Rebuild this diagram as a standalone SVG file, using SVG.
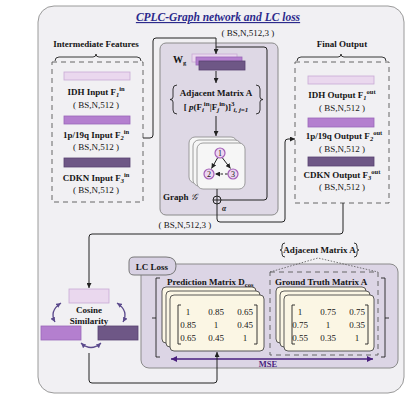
<svg xmlns="http://www.w3.org/2000/svg" width="415" height="409" viewBox="0 0 415 409">
<defs>
<marker id="ah" viewBox="0 0 6 6" refX="6" refY="3" markerWidth="5" markerHeight="5" markerUnits="userSpaceOnUse" orient="auto"><path d="M0,0 L6,3 L0,6 z" fill="#222"/></marker>
<marker id="ap" viewBox="0 0 6 6" refX="6" refY="3" markerWidth="6" markerHeight="6" markerUnits="userSpaceOnUse" orient="auto-start-reverse"><path d="M0,0 L6,3 L0,6 z" fill="#4a1f7e"/></marker>
<marker id="ac" viewBox="0 0 6 6" refX="6" refY="3" markerWidth="5" markerHeight="5" markerUnits="userSpaceOnUse" orient="auto-start-reverse"><path d="M0,0 L6,3 L0,6 z" fill="#5b4a8c"/></marker>
</defs>
<style>
text{font-family:"Liberation Serif","DejaVu Serif",serif;fill:#151515}
.b{font-weight:bold}
.s9{font-size:9px}
.s8{font-size:8.5px}
.c{text-anchor:middle}
.sp{font-size:6.5px}
.sq{font-size:7px}
.ln{fill:none;stroke:#222;stroke-width:1}
.dash{fill:none;stroke:#666;stroke-width:1;stroke-dasharray:5,4}
.b1{fill:#ead8ee;stroke:#c9aad4;stroke-width:0.8}
.b2{fill:#b47fcf;stroke:#9a66b8;stroke-width:0.8}
.b3{fill:#6e5786;stroke:#574270;stroke-width:0.8}
.card{fill:#fbf6e4;stroke:#333;stroke-width:0.8}
.gcard{fill:#f6f6f6;stroke:#888;stroke-width:0.8}
.nd{fill:#ecd6f0;stroke:#a45fb8;stroke-width:1.2}
.br{fill:none;stroke:#222;stroke-width:0.9}
</style>

<rect x="38" y="6" width="366" height="387" rx="16" fill="#f1f0f3" stroke="#9a9a9a" stroke-width="1"/>
<text x="218" y="21" class="c" style="font-size:11.5px;font-weight:bold;font-style:italic;fill:#2c2a8c;text-decoration:underline">CPLC-Graph network and LC loss</text>

<g id="intermediate">
<text x="96" y="47" class="b s9 c">Intermediate Features</text>
<path class="br" d="M55,61 Q55,57 59,57 L93,57 Q96,57 96,54 Q96,57 99,57 L137,57 Q141,57 141,61"/>
<rect class="dash" x="52" y="62" width="91" height="140"/>
<rect class="b1" x="64" y="72" width="66" height="8"/>
<text x="96" y="95" class="b s9 c">IDH Input F<tspan class="sp" font-style="italic" dy="2">1</tspan><tspan class="sp" dy="-6">in</tspan></text>
<text x="96" y="108" class="s9 c">( BS,N,512 )</text>
<rect class="b2" x="64" y="116" width="66" height="8"/>
<text x="96" y="138" class="b s9 c">1p/19q Input F<tspan class="sp" font-style="italic" dy="2">2</tspan><tspan class="sp" dy="-6">in</tspan></text>
<text x="96" y="150" class="s9 c">( BS,N,512 )</text>
<rect class="b3" x="64" y="158" width="66" height="9"/>
<text x="96" y="181" class="b s9 c">CDKN Input F<tspan class="sp" font-style="italic" dy="2">3</tspan><tspan class="sp" dy="-6">in</tspan></text>
<text x="96" y="193" class="s9 c">( BS,N,512 )</text>
</g>

<g id="graph-module">
<rect x="160" y="43" width="118" height="172" rx="6" fill="#ded8e5" stroke="#8a8a8a" stroke-width="1"/>
<text x="173" y="63" class="b" style="font-size:10px">W<tspan class="sp" dy="2">g</tspan></text>
<rect class="b1" x="192" y="54" width="45" height="8"/>
<rect class="b2" x="196" y="57" width="46" height="8"/>
<rect class="b3" x="199" y="61" width="46" height="9"/>
<path class="br" d="M177,85 Q173,85 173,89 L173,97 Q173,99.5 170,99.5 Q173,99.5 173,102 L173,110 Q173,114 177,114"/>
<path class="br" d="M256,85 Q260,85 260,89 L260,97 Q260,99.5 263,99.5 Q260,99.5 260,102 L260,110 Q260,114 256,114"/>
<text x="216" y="96" class="b s9 c">Adjacent Matrix A</text>
<text x="216" y="110" class="b s9 c">[ <tspan font-style="italic">p</tspan>(F<tspan class="sq" font-style="italic" dy="2">i</tspan><tspan class="sq" dy="-6">in</tspan><tspan dy="4">|F</tspan><tspan class="sq" font-style="italic" dy="2">j</tspan><tspan class="sq" dy="-6">in</tspan><tspan dy="4">)]</tspan><tspan class="sq" dy="-4">3</tspan><tspan class="sq" font-style="italic" dy="6" dx="-1">i, j=1</tspan></text>
<rect class="gcard" x="189" y="137" width="48" height="46" rx="6"/>
<rect class="gcard" x="193" y="140" width="48" height="46" rx="6"/>
<rect class="gcard" x="197" y="143" width="48" height="46" rx="6"/>
<circle class="nd" cx="220" cy="153" r="5"/>
<circle class="nd" cx="209" cy="174" r="5"/>
<circle class="nd" cx="233" cy="174" r="5"/>
<text x="220" y="156" class="c" style="font-size:8px">1</text>
<text x="209" y="177" class="c" style="font-size:8px">2</text>
<text x="233" y="177" class="c" style="font-size:8px">3</text>
<path class="ln" d="M217.5,158 L211.5,168.5" marker-end="url(#ah)"/>
<path class="ln" d="M222.5,158 L230.5,168.5" marker-end="url(#ah)"/>
<path class="ln" d="M227.5,174 L215,174" stroke-dasharray="2.5,2" marker-end="url(#ah)"/>
<text x="163" y="200" class="b s9">Graph <tspan font-style="italic" font-weight="normal">𝒢</tspan></text>
<circle cx="217" cy="200" r="4" fill="none" stroke="#222" stroke-width="1"/>
<path class="ln" d="M213,200 L221,200 M217,196 L217,204"/>
<text x="222" y="211" class="b" style="font-size:7.5px;font-style:italic">α</text>
</g>

<g id="final-output">
<text x="342" y="47" class="b s9 c">Final Output</text>
<path class="br" d="M297,61 Q297,57 301,57 L338,57 Q341,57 341,54 Q341,57 344,57 L382,57 Q386,57 386,61"/>
<rect class="dash" x="295" y="62" width="94" height="141"/>
<rect class="b1" x="308" y="76" width="66" height="8"/>
<text x="342" y="98" class="b s9 c">IDH Output F<tspan class="sp" font-style="italic" dy="2">1</tspan><tspan class="sp" dy="-6">out</tspan></text>
<text x="342" y="111" class="s9 c">( BS,N,512 )</text>
<rect class="b2" x="308" y="118" width="66" height="9"/>
<text x="344" y="139" class="b s9 c">1p/19q Output F<tspan class="sp" font-style="italic" dy="2">2</tspan><tspan class="sp" dy="-6">out</tspan></text>
<text x="342" y="152" class="s9 c">( BS,N,512 )</text>
<rect class="b3" x="308" y="157" width="66" height="9"/>
<text x="342" y="178" class="b s9 c">CDKN Output F<tspan class="sp" font-style="italic" dy="2">3</tspan><tspan class="sp" dy="-6">out</tspan></text>
<text x="342" y="190" class="s9 c">( BS,N,512 )</text>
</g>

<text x="248" y="36" class="s9 c">( BS,N,512,3 )</text>
<text x="185" y="228" class="s9 c">( BS,N,512,3 )</text>

<g id="cosine">
<rect class="b1" x="69" y="289" width="40" height="14"/>
<rect class="b2" x="41" y="326" width="40" height="14"/>
<rect class="b3" x="98" y="326" width="40" height="14"/>
<text x="89" y="313" class="b s9 c">Cosine</text>
<text x="89" y="324" class="b s9 c">Similarity</text>
<path d="M61,303 Q49,311 55,322" fill="none" stroke="#5b4a8c" stroke-width="1.3" marker-start="url(#ac)" marker-end="url(#ac)"/>
<path d="M117,303 Q129,311 123,322" fill="none" stroke="#5b4a8c" stroke-width="1.3" marker-start="url(#ac)" marker-end="url(#ac)"/>
<path d="M81,343 Q91,352 101,343" fill="none" stroke="#5b4a8c" stroke-width="1.3" marker-start="url(#ac)" marker-end="url(#ac)"/>
</g>

<g id="lc-loss">
<rect x="141" y="264" width="257" height="104" rx="8" fill="#dcd5e5" stroke="#8a8a8a" stroke-width="1"/>
<path d="M134,257 L166,257 Q176,257 176,266 Q176,275 166,275 L134,275 Q129,275 129,270 L129,262 Q129,257 134,257 z" fill="#d8d1e3" stroke="#777" stroke-width="1"/>
<text x="152" y="270" class="b s9 c">LC Loss</text>
<path class="br" d="M160,278 L156,278 L156,357 L160,357 M156,318 L152,318"/>
<path class="br" d="M381,278 L385,278 L385,357 L381,357 M385,318 L389,318"/>
<text x="167" y="285" class="b s9">Prediction Matrix D<tspan class="sp" dy="2">cos</tspan></text>
<rect class="dash" x="270" y="272" width="108" height="83"/>
<path d="M270,272 L318,258 L378,272" fill="none" stroke="#555" stroke-width="0.8" stroke-dasharray="1.5,1.5"/>
<path class="br" d="M285,243 Q282,243 282,246 L282,248 Q282,250 280,250 Q282,250 282,252 L282,254 Q282,257 285,257"/>
<path class="br" d="M354,243 Q357,243 357,246 L357,248 Q357,250 359,250 Q357,250 357,252 L357,254 Q357,257 354,257"/>
<text x="319.5" y="253" class="b s9 c">Adjacent Matrix A</text>
<text x="275" y="285" class="b s9">Ground Truth Matrix A</text>
<rect class="card" x="162" y="287" width="94" height="56" rx="4"/>
<rect class="card" x="166" y="291" width="94" height="56" rx="4"/>
<rect class="card" x="170" y="295" width="94" height="56" rx="4"/>
<path class="br" d="M181,305 L178,305 L178,344 L181,344 M254,305 L257,305 L257,344 L254,344"/>
<text x="188" y="315" class="c s9">1</text><text x="216" y="315" class="c s9">0.85</text><text x="245" y="315" class="c s9">0.65</text>
<text x="188" y="328" class="c s9">0.85</text><text x="216" y="328" class="c s9">1</text><text x="245" y="328" class="c s9">0.45</text>
<text x="188" y="341" class="c s9">0.65</text><text x="216" y="341" class="c s9">0.45</text><text x="245" y="341" class="c s9">1</text>
<rect class="card" x="276" y="287" width="90" height="56" rx="4"/>
<rect class="card" x="280" y="291" width="90" height="56" rx="4"/>
<rect class="card" x="284" y="295" width="90" height="56" rx="4"/>
<path class="br" d="M295,305 L292,305 L292,344 L295,344 M365,305 L368,305 L368,344 L365,344"/>
<text x="300" y="315" class="c s9">1</text><text x="328" y="315" class="c s9">0.75</text><text x="357" y="315" class="c s9">0.75</text>
<text x="300" y="328" class="c s9">0.75</text><text x="328" y="328" class="c s9">1</text><text x="357" y="328" class="c s9">0.35</text>
<text x="300" y="341" class="c s9">0.55</text><text x="328" y="341" class="c s9">0.35</text><text x="357" y="341" class="c s9">1</text>
<path d="M171,359 L373,359" fill="none" stroke="#4a1f7e" stroke-width="1.4" marker-start="url(#ap)" marker-end="url(#ap)"/>
<text x="268" y="367" class="b s8 c" style="fill:#4a1f7e">MSE</text>
</g>

<g id="connectors">
<path class="ln" d="M143,138 L150,138 Q153,138 153,135 L153,41 Q153,38 156,38 L216,38 L216,54" marker-end="url(#ah)"/>
<path class="ln" d="M216,47 L264,47 Q267,47 267,50 L267,197 Q267,200 264,200 L221,200"/>
<path class="ln" d="M216,71 L216,83" marker-end="url(#ah)"/>
<path class="ln" d="M216,116 L216,136" marker-end="url(#ah)"/>
<path class="ln" d="M217,189 L217,196"/>
<path class="ln" d="M217,204 L217,219 Q217,222 220,222 L282,222 Q285,222 285,219 L285,142 Q285,139 288,139 L295,139" marker-end="url(#ah)"/>
<path class="ln" d="M343,203 L343,231 Q343,234 340,234 L92,234 Q89,234 89,237 L89,288" marker-end="url(#ah)"/>
<path class="ln" d="M89,353 L89,380 Q89,383 92,383 L214,383 Q217,383 217,380 L217,352" marker-end="url(#ah)"/>
</g>
</svg>
